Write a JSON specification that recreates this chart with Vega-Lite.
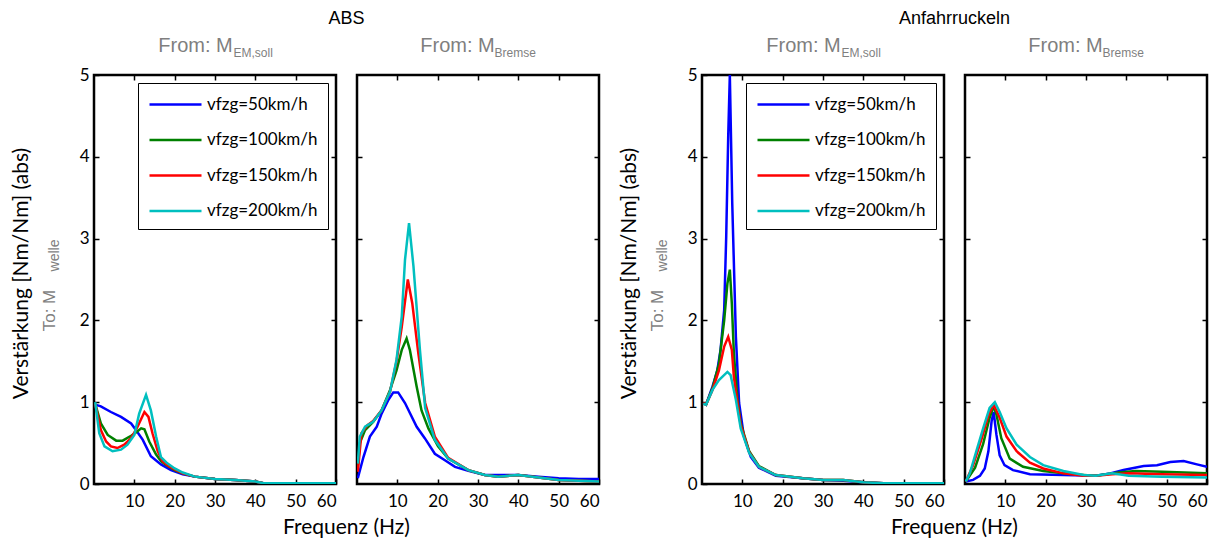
{
"$schema": "https://vega.github.io/schema/vega-lite/v6.json",
"padding": {"left": 8, "top": 7, "right": 5, "bottom": 5},
"config": {
  "view": {"stroke": "black", "strokeWidth": 2.5},
  "axis": {"domain": false, "grid": false, "tickColor": "black", "tickSize": -5, "tickWidth": 1.5, "labelFont": "Lato", "labelFontSize": 17, "labelColor": "black", "titleFontWeight": "normal"},
  "line": {"strokeWidth": 2.5}
},
"datasets": {
"a1": [
{"s":50,"f":0.3,"v":0.97},{"s":50,"f":1.7,"v":0.95},{"s":50,"f":4.2,"v":0.88},{"s":50,"f":6.7,"v":0.82},{"s":50,"f":9.2,"v":0.74},{"s":50,"f":10.4,"v":0.66},{"s":50,"f":12.1,"v":0.54},{"s":50,"f":14.1,"v":0.34},{"s":50,"f":16.6,"v":0.24},{"s":50,"f":19.1,"v":0.17},{"s":50,"f":22,"v":0.12},{"s":50,"f":25,"v":0.09},{"s":50,"f":30,"v":0.06},{"s":50,"f":35,"v":0.05},{"s":50,"f":40,"v":0.03},{"s":50,"f":42,"v":0.01},{"s":50,"f":50,"v":0.01},{"s":50,"f":60,"v":0.01},
{"s":100,"f":0.3,"v":0.98},{"s":100,"f":1.7,"v":0.74},{"s":100,"f":3.4,"v":0.6},{"s":100,"f":5.5,"v":0.53},{"s":100,"f":7.1,"v":0.53},{"s":100,"f":9.2,"v":0.59},{"s":100,"f":10.4,"v":0.63},{"s":100,"f":11.7,"v":0.68},{"s":100,"f":12.5,"v":0.67},{"s":100,"f":13.7,"v":0.52},{"s":100,"f":15.4,"v":0.36},{"s":100,"f":16.6,"v":0.28},{"s":100,"f":18,"v":0.23},{"s":100,"f":20,"v":0.17},{"s":100,"f":22,"v":0.13},{"s":100,"f":25,"v":0.09},{"s":100,"f":30,"v":0.06},{"s":100,"f":35,"v":0.05},{"s":100,"f":40,"v":0.03},{"s":100,"f":42,"v":0.01},{"s":100,"f":50,"v":0.01},{"s":100,"f":60,"v":0.01},
{"s":150,"f":0.3,"v":0.98},{"s":150,"f":1.7,"v":0.66},{"s":150,"f":3.0,"v":0.52},{"s":150,"f":4.2,"v":0.46},{"s":150,"f":5.8,"v":0.44},{"s":150,"f":7.5,"v":0.48},{"s":150,"f":9.2,"v":0.56},{"s":150,"f":10.8,"v":0.70},{"s":150,"f":12.5,"v":0.88},{"s":150,"f":13.5,"v":0.82},{"s":150,"f":14.5,"v":0.62},{"s":150,"f":15.8,"v":0.40},{"s":150,"f":17,"v":0.28},{"s":150,"f":18.5,"v":0.22},{"s":150,"f":20,"v":0.18},{"s":150,"f":22,"v":0.13},{"s":150,"f":25,"v":0.09},{"s":150,"f":30,"v":0.06},{"s":150,"f":35,"v":0.05},{"s":150,"f":40,"v":0.03},{"s":150,"f":42,"v":0.01},{"s":150,"f":50,"v":0.01},{"s":150,"f":60,"v":0.01},
{"s":200,"f":0.3,"v":1.0},{"s":200,"f":1.3,"v":0.62},{"s":200,"f":2.6,"v":0.46},{"s":200,"f":4.6,"v":0.40},{"s":200,"f":6.7,"v":0.42},{"s":200,"f":8.3,"v":0.48},{"s":200,"f":10,"v":0.6},{"s":200,"f":11.2,"v":0.86},{"s":200,"f":12.9,"v":1.09},{"s":200,"f":14.1,"v":0.9},{"s":200,"f":15.4,"v":0.58},{"s":200,"f":16.6,"v":0.33},{"s":200,"f":18,"v":0.26},{"s":200,"f":20,"v":0.19},{"s":200,"f":22,"v":0.14},{"s":200,"f":25,"v":0.09},{"s":200,"f":30,"v":0.06},{"s":200,"f":35,"v":0.05},{"s":200,"f":40,"v":0.03},{"s":200,"f":42,"v":0.01},{"s":200,"f":50,"v":0.01},{"s":200,"f":60,"v":0.01}
],
"a2": [
{"s":50,"f":0.2,"v":0.07},{"s":50,"f":1.6,"v":0.33},{"s":50,"f":3.2,"v":0.58},{"s":50,"f":4.9,"v":0.70},{"s":50,"f":6.1,"v":0.86},{"s":50,"f":7.8,"v":1.03},{"s":50,"f":9,"v":1.12},{"s":50,"f":10.2,"v":1.12},{"s":50,"f":11.9,"v":0.99},{"s":50,"f":14.8,"v":0.70},{"s":50,"f":16.8,"v":0.56},{"s":50,"f":19.3,"v":0.37},{"s":50,"f":21.8,"v":0.29},{"s":50,"f":24.3,"v":0.21},{"s":50,"f":27.6,"v":0.16},{"s":50,"f":31.7,"v":0.11},{"s":50,"f":35,"v":0.11},{"s":50,"f":40,"v":0.11},{"s":50,"f":45,"v":0.09},{"s":50,"f":50,"v":0.07},{"s":50,"f":55,"v":0.06},{"s":50,"f":60,"v":0.06},
{"s":100,"f":0.2,"v":0.2},{"s":100,"f":0.7,"v":0.50},{"s":100,"f":2,"v":0.66},{"s":100,"f":4,"v":0.76},{"s":100,"f":6.1,"v":0.9},{"s":100,"f":8.2,"v":1.15},{"s":100,"f":9.8,"v":1.39},{"s":100,"f":11.1,"v":1.64},{"s":100,"f":12.3,"v":1.78},{"s":100,"f":13.1,"v":1.64},{"s":100,"f":14.8,"v":1.19},{"s":100,"f":16,"v":0.9},{"s":100,"f":17.7,"v":0.68},{"s":100,"f":20.1,"v":0.46},{"s":100,"f":22.6,"v":0.31},{"s":100,"f":27.6,"v":0.17},{"s":100,"f":31.7,"v":0.11},{"s":100,"f":35,"v":0.09},{"s":100,"f":40,"v":0.11},{"s":100,"f":45,"v":0.08},{"s":100,"f":50,"v":0.05},{"s":100,"f":60,"v":0.03},
{"s":150,"f":0.2,"v":0.15},{"s":150,"f":1.1,"v":0.62},{"s":150,"f":2.6,"v":0.72},{"s":150,"f":4,"v":0.77},{"s":150,"f":6.1,"v":0.9},{"s":150,"f":8.2,"v":1.13},{"s":150,"f":9.8,"v":1.5},{"s":150,"f":11.1,"v":1.92},{"s":150,"f":12.6,"v":2.50},{"s":150,"f":13.7,"v":2.21},{"s":150,"f":15.2,"v":1.6},{"s":150,"f":16.9,"v":0.99},{"s":150,"f":19.3,"v":0.58},{"s":150,"f":22.6,"v":0.32},{"s":150,"f":27.6,"v":0.17},{"s":150,"f":31.7,"v":0.11},{"s":150,"f":35,"v":0.09},{"s":150,"f":40,"v":0.11},{"s":150,"f":45,"v":0.08},{"s":150,"f":50,"v":0.05},{"s":150,"f":60,"v":0.03},
{"s":200,"f":0.2,"v":0.25},{"s":200,"f":0.7,"v":0.58},{"s":200,"f":2,"v":0.70},{"s":200,"f":4,"v":0.76},{"s":200,"f":6.1,"v":0.90},{"s":200,"f":8.2,"v":1.13},{"s":200,"f":9.8,"v":1.52},{"s":200,"f":11.1,"v":2.05},{"s":200,"f":11.9,"v":2.74},{"s":200,"f":12.9,"v":3.19},{"s":200,"f":14,"v":2.66},{"s":200,"f":15.6,"v":1.64},{"s":200,"f":16.9,"v":0.93},{"s":200,"f":19.3,"v":0.54},{"s":200,"f":22.6,"v":0.31},{"s":200,"f":27.6,"v":0.17},{"s":200,"f":31.7,"v":0.11},{"s":200,"f":35,"v":0.09},{"s":200,"f":40,"v":0.11},{"s":200,"f":45,"v":0.08},{"s":200,"f":50,"v":0.05},{"s":200,"f":60,"v":0.03}
],
"b1": [
{"s":50,"f":0.3,"v":0.99},{"s":50,"f":1,"v":0.97},{"s":50,"f":2.6,"v":1.19},{"s":50,"f":3.8,"v":1.39},{"s":50,"f":4.6,"v":1.64},{"s":50,"f":5.5,"v":2.13},{"s":50,"f":6.0,"v":3.02},{"s":50,"f":6.5,"v":4.25},{"s":50,"f":6.9,"v":5.0},{"s":50,"f":7.5,"v":3.43},{"s":50,"f":8.4,"v":1.8},{"s":50,"f":9.2,"v":0.99},{"s":50,"f":10.4,"v":0.58},{"s":50,"f":12.1,"v":0.33},{"s":50,"f":14.1,"v":0.2},{"s":50,"f":18.3,"v":0.10},{"s":50,"f":25,"v":0.07},{"s":50,"f":30,"v":0.05},{"s":50,"f":35,"v":0.04},{"s":50,"f":40,"v":0.02},{"s":50,"f":45,"v":0.01},{"s":50,"f":60,"v":0.01},
{"s":100,"f":0.3,"v":0.99},{"s":100,"f":1,"v":0.97},{"s":100,"f":2.6,"v":1.17},{"s":100,"f":4.2,"v":1.47},{"s":100,"f":5.5,"v":2.0},{"s":100,"f":6.3,"v":2.45},{"s":100,"f":6.9,"v":2.62},{"s":100,"f":7.4,"v":2.2},{"s":100,"f":7.9,"v":1.6},{"s":100,"f":8.8,"v":1.03},{"s":100,"f":9.6,"v":0.74},{"s":100,"f":11.7,"v":0.40},{"s":100,"f":14.1,"v":0.22},{"s":100,"f":18.3,"v":0.11},{"s":100,"f":25,"v":0.07},{"s":100,"f":30,"v":0.05},{"s":100,"f":35,"v":0.05},{"s":100,"f":40,"v":0.02},{"s":100,"f":45,"v":0.01},{"s":100,"f":60,"v":0.01},
{"s":150,"f":0.3,"v":0.99},{"s":150,"f":1,"v":0.97},{"s":150,"f":2.6,"v":1.15},{"s":150,"f":4.2,"v":1.39},{"s":150,"f":5.5,"v":1.68},{"s":150,"f":6.5,"v":1.80},{"s":150,"f":7.4,"v":1.64},{"s":150,"f":7.9,"v":1.31},{"s":150,"f":8.8,"v":0.99},{"s":150,"f":9.6,"v":0.72},{"s":150,"f":11.7,"v":0.39},{"s":150,"f":14.1,"v":0.21},{"s":150,"f":18.3,"v":0.11},{"s":150,"f":25,"v":0.07},{"s":150,"f":30,"v":0.05},{"s":150,"f":35,"v":0.05},{"s":150,"f":40,"v":0.02},{"s":150,"f":45,"v":0.01},{"s":150,"f":60,"v":0.01},
{"s":200,"f":0.3,"v":0.98},{"s":200,"f":1,"v":0.97},{"s":200,"f":2.6,"v":1.15},{"s":200,"f":4.2,"v":1.27},{"s":200,"f":6.3,"v":1.37},{"s":200,"f":7.1,"v":1.33},{"s":200,"f":8.4,"v":1.03},{"s":200,"f":9.6,"v":0.68},{"s":200,"f":11.7,"v":0.38},{"s":200,"f":14.1,"v":0.21},{"s":200,"f":18.3,"v":0.11},{"s":200,"f":25,"v":0.07},{"s":200,"f":30,"v":0.05},{"s":200,"f":35,"v":0.05},{"s":200,"f":40,"v":0.02},{"s":200,"f":45,"v":0.01},{"s":200,"f":60,"v":0.01}
],
"b2": [
{"s":50,"f":0.2,"v":0.03},{"s":50,"f":2,"v":0.05},{"s":50,"f":3.7,"v":0.1},{"s":50,"f":4.9,"v":0.19},{"s":50,"f":5.8,"v":0.40},{"s":50,"f":6.6,"v":0.77},{"s":50,"f":7.1,"v":0.88},{"s":50,"f":7.8,"v":0.6},{"s":50,"f":8.6,"v":0.35},{"s":50,"f":9.8,"v":0.23},{"s":50,"f":11.9,"v":0.17},{"s":50,"f":16.1,"v":0.12},{"s":50,"f":24.4,"v":0.11},{"s":50,"f":32.4,"v":0.10},{"s":50,"f":36,"v":0.13},{"s":50,"f":39.3,"v":0.17},{"s":50,"f":44.3,"v":0.22},{"s":50,"f":47.6,"v":0.23},{"s":50,"f":50.9,"v":0.27},{"s":50,"f":54.2,"v":0.28},{"s":50,"f":57.5,"v":0.24},{"s":50,"f":60,"v":0.21},
{"s":100,"f":0.2,"v":0.03},{"s":100,"f":2.5,"v":0.2},{"s":100,"f":4.5,"v":0.49},{"s":100,"f":6.1,"v":0.81},{"s":100,"f":7.1,"v":0.95},{"s":100,"f":7.8,"v":0.85},{"s":100,"f":9,"v":0.56},{"s":100,"f":11.1,"v":0.31},{"s":100,"f":14.4,"v":0.21},{"s":100,"f":19.4,"v":0.16},{"s":100,"f":24.4,"v":0.13},{"s":100,"f":29.4,"v":0.11},{"s":100,"f":32.4,"v":0.10},{"s":100,"f":38.1,"v":0.14},{"s":100,"f":42.3,"v":0.16},{"s":100,"f":48.9,"v":0.15},{"s":100,"f":60,"v":0.13},
{"s":150,"f":0.2,"v":0.03},{"s":150,"f":2,"v":0.23},{"s":150,"f":4.1,"v":0.55},{"s":150,"f":5.8,"v":0.84},{"s":150,"f":7.1,"v":0.97},{"s":150,"f":8.6,"v":0.81},{"s":150,"f":10.3,"v":0.58},{"s":150,"f":12.8,"v":0.40},{"s":150,"f":16.1,"v":0.26},{"s":150,"f":19.4,"v":0.19},{"s":150,"f":24.4,"v":0.13},{"s":150,"f":29.4,"v":0.10},{"s":150,"f":32.4,"v":0.10},{"s":150,"f":36.5,"v":0.12},{"s":150,"f":40.6,"v":0.13},{"s":150,"f":48.9,"v":0.12},{"s":150,"f":60,"v":0.11},
{"s":200,"f":0.2,"v":0.03},{"s":200,"f":1.2,"v":0.13},{"s":200,"f":2.8,"v":0.40},{"s":200,"f":4.5,"v":0.68},{"s":200,"f":6.1,"v":0.93},{"s":200,"f":7.4,"v":1.0},{"s":200,"f":8.6,"v":0.88},{"s":200,"f":10.3,"v":0.68},{"s":200,"f":12.8,"v":0.48},{"s":200,"f":16.1,"v":0.33},{"s":200,"f":19.4,"v":0.23},{"s":200,"f":24.4,"v":0.16},{"s":200,"f":29.4,"v":0.11},{"s":200,"f":32.4,"v":0.10},{"s":200,"f":36.5,"v":0.13},{"s":200,"f":40.6,"v":0.10},{"s":200,"f":48.9,"v":0.09},{"s":200,"f":60,"v":0.08}
]
},
"hconcat": [
{
 "spacing": 21, "bounds": "flush",
 "resolve": {"scale": {"color": "independent"}},
 "hconcat": [
  {
   "width": 242, "height": 409,
   "data": {"name": "a1"},
   "layer": [
    {"mark": {"type": "line", "clip": true},
     "encoding": {
      "x": {"field": "f", "type": "quantitative", "scale": {"domain": [0, 60], "nice": false, "zero": false},
            "axis": {"orient": "bottom", "values": [10,20,30,40,50,60], "labelPadding": 14, "title": "Frequenz  (Hz)", "titleX": 252, "titleY": 43, "titleAlign": "center", "titleBaseline": "middle", "titleFont": "Lato", "titleFontSize": 21, "titleColor": "black"}},
      "y": {"field": "v", "type": "quantitative", "scale": {"domain": [0, 5], "nice": false},
            "axis": {"orient": "left", "values": [0,1,2,3,4,5], "labelPadding": 10, "title": "Verstärkung [Nm/Nm] (abs)", "titleX": -73, "titleY": 198, "titleAngle": -90, "titleAlign": "center", "titleBaseline": "middle", "titleFont": "Lato", "titleFontSize": 21, "titleColor": "black"}},
      "color": {"field": "s", "type": "nominal", "scale": {"domain": [50,100,150,200], "range": ["#0000ff","#008000","#ff0000","#00bfbf"]},
            "legend": {"title": null, "orient": "top-right", "offset": 8, "padding": 10, "fillColor": "white", "strokeColor": "black", "symbolType": "M-1,0H4.2", "symbolSize": 400, "symbolStrokeWidth": 2.5, "labelFont": "Lato", "labelFontSize": 17, "labelColor": "black", "labelOffset": 36, "rowPadding": 15.5, "labelExpr": "'vfzg=' + datum.label + 'km/h'", "encode": {"legend": {"update": {"strokeWidth": {"value": 2.5}}}}}}
     }},
    {"mark": {"type": "line", "opacity": 0},
     "encoding": {
      "x": {"field": "f", "type": "quantitative", "axis": {"orient": "top", "values": [10,20,30,40,50], "labels": false, "title": "EM,soll", "titleX": 139, "titleY": -19, "titleAlign": "left", "titleBaseline": "alphabetic", "titleFont": "Liberation Sans", "titleFontSize": 12, "titleColor": "#7f7f7f"}},
      "y": {"field": "v", "type": "quantitative", "axis": {"orient": "right", "values": [1,2,3,4], "labels": false, "title": "welle", "titleX": -282, "titleY": 180, "titleAngle": -90, "titleAlign": "center", "titleBaseline": "middle", "titleFont": "Liberation Sans", "titleFontSize": 14, "titleColor": "#7f7f7f"}}
     }},
    {"mark": {"type": "line", "opacity": 0},
     "encoding": {
      "x": {"field": "f", "type": "quantitative", "axis": {"orient": "top", "labels": false, "ticks": false, "title": "From: M", "titleX": 101, "titleY": -24, "titleAlign": "center", "titleBaseline": "alphabetic", "titleFont": "Liberation Sans", "titleFontSize": 20, "titleColor": "#7f7f7f"}},
      "y": {"field": "v", "type": "quantitative", "axis": {"orient": "left", "labels": false, "ticks": false, "title": "To: M", "titleX": -45, "titleY": 235, "titleAngle": -90, "titleAlign": "center", "titleBaseline": "middle", "titleFont": "Liberation Sans", "titleFontSize": 17, "titleColor": "#7f7f7f"}}
     }},
    {"mark": {"type": "line", "opacity": 0},
     "encoding": {
      "x": {"field": "f", "type": "quantitative", "axis": {"orient": "top", "labels": false, "ticks": false, "title": "ABS", "titleX": 252, "titleY": -57, "titleAlign": "center", "titleBaseline": "middle", "titleFont": "Liberation Sans", "titleFontSize": 18, "titleColor": "black"}},
      "y": {"field": "v", "type": "quantitative", "axis": null}
     }}
   ],
   "resolve": {"axis": {"x": "independent", "y": "independent"}}
  },
  {
   "width": 242, "height": 409,
   "data": {"name": "a2"},
   "layer": [
    {"mark": {"type": "line", "clip": true},
     "encoding": {
      "x": {"field": "f", "type": "quantitative", "scale": {"domain": [0, 60], "nice": false, "zero": false},
            "axis": {"orient": "bottom", "values": [10,20,30,40,50,60], "labelPadding": 14, "title": null}},
      "y": {"field": "v", "type": "quantitative", "scale": {"domain": [0, 5], "nice": false},
            "axis": {"orient": "left", "values": [1,2,3,4], "labels": false, "title": null}},
      "color": {"field": "s", "type": "nominal", "scale": {"domain": [50,100,150,200], "range": ["#0000ff","#008000","#ff0000","#00bfbf"]}, "legend": null}
     }},
    {"mark": {"type": "line", "opacity": 0},
     "encoding": {
      "x": {"field": "f", "type": "quantitative", "axis": {"orient": "top", "values": [10,20,30,40,50], "labels": false, "title": "Bremse", "titleX": 137, "titleY": -19, "titleAlign": "left", "titleBaseline": "alphabetic", "titleFont": "Liberation Sans", "titleFontSize": 12, "titleColor": "#7f7f7f"}},
      "y": {"field": "v", "type": "quantitative", "axis": {"orient": "right", "values": [1,2,3,4], "labels": false, "title": null}}
     }},
    {"mark": {"type": "line", "opacity": 0},
     "encoding": {
      "x": {"field": "f", "type": "quantitative", "axis": {"orient": "top", "labels": false, "ticks": false, "title": "From: M", "titleX": 100, "titleY": -24, "titleAlign": "center", "titleBaseline": "alphabetic", "titleFont": "Liberation Sans", "titleFontSize": 20, "titleColor": "#7f7f7f"}},
      "y": {"field": "v", "type": "quantitative", "axis": null}
     }}
   ],
   "resolve": {"axis": {"x": "independent", "y": "independent"}}
  }
 ]
},
{
 "spacing": 21, "bounds": "flush",
 "resolve": {"scale": {"color": "independent"}},
 "hconcat": [
  {
   "width": 242, "height": 409,
   "data": {"name": "b1"},
   "layer": [
    {"mark": {"type": "line", "clip": true},
     "encoding": {
      "x": {"field": "f", "type": "quantitative", "scale": {"domain": [0, 60], "nice": false, "zero": false},
            "axis": {"orient": "bottom", "values": [10,20,30,40,50,60], "labelPadding": 14, "title": "Frequenz  (Hz)", "titleX": 252, "titleY": 43, "titleAlign": "center", "titleBaseline": "middle", "titleFont": "Lato", "titleFontSize": 21, "titleColor": "black"}},
      "y": {"field": "v", "type": "quantitative", "scale": {"domain": [0, 5], "nice": false},
            "axis": {"orient": "left", "values": [0,1,2,3,4,5], "labelPadding": 10, "title": "Verstärkung [Nm/Nm] (abs)", "titleX": -73, "titleY": 198, "titleAngle": -90, "titleAlign": "center", "titleBaseline": "middle", "titleFont": "Lato", "titleFontSize": 21, "titleColor": "black"}},
      "color": {"field": "s", "type": "nominal", "scale": {"domain": [50,100,150,200], "range": ["#0000ff","#008000","#ff0000","#00bfbf"]},
            "legend": {"title": null, "orient": "top-right", "offset": 8, "padding": 10, "fillColor": "white", "strokeColor": "black", "symbolType": "M-1,0H4.2", "symbolSize": 400, "symbolStrokeWidth": 2.5, "labelFont": "Lato", "labelFontSize": 17, "labelColor": "black", "labelOffset": 36, "rowPadding": 15.5, "labelExpr": "'vfzg=' + datum.label + 'km/h'", "encode": {"legend": {"update": {"strokeWidth": {"value": 2.5}}}}}}
     }},
    {"mark": {"type": "line", "opacity": 0},
     "encoding": {
      "x": {"field": "f", "type": "quantitative", "axis": {"orient": "top", "values": [10,20,30,40,50], "labels": false, "title": "EM,soll", "titleX": 139, "titleY": -19, "titleAlign": "left", "titleBaseline": "alphabetic", "titleFont": "Liberation Sans", "titleFontSize": 12, "titleColor": "#7f7f7f"}},
      "y": {"field": "v", "type": "quantitative", "axis": {"orient": "right", "values": [1,2,3,4], "labels": false, "title": "welle", "titleX": -282, "titleY": 180, "titleAngle": -90, "titleAlign": "center", "titleBaseline": "middle", "titleFont": "Liberation Sans", "titleFontSize": 14, "titleColor": "#7f7f7f"}}
     }},
    {"mark": {"type": "line", "opacity": 0},
     "encoding": {
      "x": {"field": "f", "type": "quantitative", "axis": {"orient": "top", "labels": false, "ticks": false, "title": "From: M", "titleX": 101, "titleY": -24, "titleAlign": "center", "titleBaseline": "alphabetic", "titleFont": "Liberation Sans", "titleFontSize": 20, "titleColor": "#7f7f7f"}},
      "y": {"field": "v", "type": "quantitative", "axis": {"orient": "left", "labels": false, "ticks": false, "title": "To: M", "titleX": -45, "titleY": 235, "titleAngle": -90, "titleAlign": "center", "titleBaseline": "middle", "titleFont": "Liberation Sans", "titleFontSize": 17, "titleColor": "#7f7f7f"}}
     }},
    {"mark": {"type": "line", "opacity": 0},
     "encoding": {
      "x": {"field": "f", "type": "quantitative", "axis": {"orient": "top", "labels": false, "ticks": false, "title": "Anfahrruckeln", "titleX": 252, "titleY": -57, "titleAlign": "center", "titleBaseline": "middle", "titleFont": "Liberation Sans", "titleFontSize": 18, "titleColor": "black"}},
      "y": {"field": "v", "type": "quantitative", "axis": null}
     }}
   ],
   "resolve": {"axis": {"x": "independent", "y": "independent"}}
  },
  {
   "width": 242, "height": 409,
   "data": {"name": "b2"},
   "layer": [
    {"mark": {"type": "line", "clip": true},
     "encoding": {
      "x": {"field": "f", "type": "quantitative", "scale": {"domain": [0, 60], "nice": false, "zero": false},
            "axis": {"orient": "bottom", "values": [10,20,30,40,50,60], "labelPadding": 14, "title": null}},
      "y": {"field": "v", "type": "quantitative", "scale": {"domain": [0, 5], "nice": false},
            "axis": {"orient": "left", "values": [1,2,3,4], "labels": false, "title": null}},
      "color": {"field": "s", "type": "nominal", "scale": {"domain": [50,100,150,200], "range": ["#0000ff","#008000","#ff0000","#00bfbf"]}, "legend": null}
     }},
    {"mark": {"type": "line", "opacity": 0},
     "encoding": {
      "x": {"field": "f", "type": "quantitative", "axis": {"orient": "top", "values": [10,20,30,40,50], "labels": false, "title": "Bremse", "titleX": 137, "titleY": -19, "titleAlign": "left", "titleBaseline": "alphabetic", "titleFont": "Liberation Sans", "titleFontSize": 12, "titleColor": "#7f7f7f"}},
      "y": {"field": "v", "type": "quantitative", "axis": {"orient": "right", "values": [1,2,3,4], "labels": false, "title": null}}
     }},
    {"mark": {"type": "line", "opacity": 0},
     "encoding": {
      "x": {"field": "f", "type": "quantitative", "axis": {"orient": "top", "labels": false, "ticks": false, "title": "From: M", "titleX": 100, "titleY": -24, "titleAlign": "center", "titleBaseline": "alphabetic", "titleFont": "Liberation Sans", "titleFontSize": 20, "titleColor": "#7f7f7f"}},
      "y": {"field": "v", "type": "quantitative", "axis": null}
     }}
   ],
   "resolve": {"axis": {"x": "independent", "y": "independent"}}
  }
 ]
}
],
"spacing": 15,
"resolve": {"scale": {"color": "independent"}}
}
